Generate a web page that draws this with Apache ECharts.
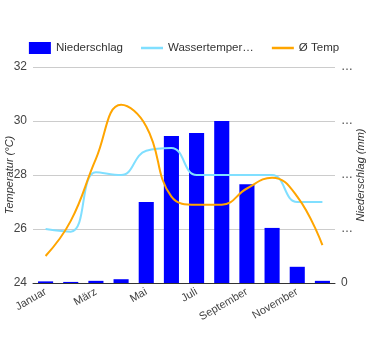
<!DOCTYPE html>
<html><head><meta charset="utf-8">
<script src="https://cdn.jsdelivr.net/npm/echarts@6/dist/echarts.min.js"></script>
<style>html,body{margin:0;padding:0;background:#fff}#c{width:368px;height:350px}</style>
</head><body><div id="c"></div>
<script>
var months = ['Januar','Februar','März','April','Mai','Juni','Juli','August','September','Oktober','November','Dezember'];
var niederschlag = [3, 2, 4, 7, 150, 272, 278, 300, 183, 102, 30, 4];
var wassertemp = [26.0, 25.9, 28.1, 28.0, 28.9, 29.0, 28.0, 28.0, 28.0, 28.0, 27.0, 27.0];
var avgTemp = [25.0, 26.3, 28.6, 30.6, 29.8, 27.2, 26.9, 26.9, 27.5, 27.9, 27.2, 25.4];
var seriesNames = ['Niederschlag', 'Wassertemperatur', 'Ø Temp'];
var tempTicks = {min: 24, max: 32, interval: 2};
var rainTicks = {min: 0, max: 400, interval: 100};

var FONT = '"Liberation Sans", Arial, sans-serif';
var lineIcon = 'path://M0,0h22v2.5h-22z';
var chart = echarts.init(document.getElementById('c'), null, {renderer: 'canvas'});
chart.setOption({
  animation: false,
  textStyle: {fontFamily: FONT},
  legend: {
    top: 37, left: 'center', itemWidth: 22, itemHeight: 12, itemGap: 18,
    textStyle: {fontSize: 11.5, color: '#333', fontFamily: FONT, width: 88, overflow: 'truncate', ellipsis: '…'},
    data: [{name: seriesNames[0], icon: 'rect'}, {name: seriesNames[1], icon: lineIcon}, {name: seriesNames[2], icon: lineIcon}]
  },
  grid: {left: 33, right: 33, top: 67, bottom: 67, containLabel: false, outerBoundsMode: 'none'},
  xAxis: {
    type: 'category', data: months,
    axisTick: {show: false},
    axisLine: {lineStyle: {color: '#333'}},
    axisLabel: {interval: 1, rotate: 30, color: '#444', fontSize: 11, margin: 8, fontFamily: FONT}
  },
  yAxis: [{
    type: 'value', min: tempTicks.min, max: tempTicks.max, interval: tempTicks.interval,
    name: 'Temperatur (°C)', nameLocation: 'middle', nameGap: 18, nameMoveOverlap: false,
    nameTextStyle: {fontStyle: 'italic', color: '#333', fontSize: 11, fontFamily: FONT},
    axisLabel: {color: '#444', fontSize: 12, fontFamily: FONT, margin: 6},
    axisLine: {show: false}, axisTick: {show: false},
    splitLine: {lineStyle: {color: '#ccc'}}
  }, {
    type: 'value', min: rainTicks.min, max: rainTicks.max, interval: rainTicks.interval,
    name: 'Niederschlag (mm)', nameLocation: 'middle', nameGap: 20, nameMoveOverlap: false,
    nameTextStyle: {fontStyle: 'italic', color: '#333', fontSize: 11, fontFamily: FONT},
    axisLabel: {color: '#444', fontSize: 12, fontFamily: FONT, margin: 6,
      formatter: function (v) { return v === 0 ? '0' : '…'; }},
    axisLine: {show: false}, axisTick: {show: false},
    splitLine: {show: false}
  }],
  series: [{
    name: seriesNames[0], type: 'bar', yAxisIndex: 1, data: niederschlag,
    barWidth: '60%', itemStyle: {color: '#0000ff'}
  }, {
    name: seriesNames[1], type: 'line', yAxisIndex: 0, data: wassertemp,
    smooth: 0.45, symbol: 'none', lineStyle: {color: '#80dfff', width: 2}, itemStyle: {color: '#80dfff'}
  }, {
    name: seriesNames[2], type: 'line', yAxisIndex: 0, data: avgTemp,
    smooth: 0.45, symbol: 'none', lineStyle: {color: '#ffa500', width: 2}, itemStyle: {color: '#ffa500'}
  }]
});
</script></body></html>
